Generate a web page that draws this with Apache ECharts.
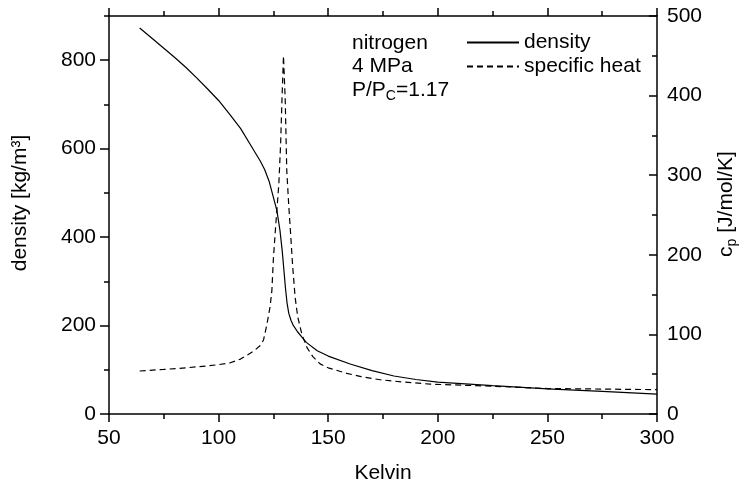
<!DOCTYPE html>
<html>
<head>
<meta charset="utf-8">
<script src="https://cdn.jsdelivr.net/npm/echarts@6/dist/echarts.min.js"></script>
<style>html,body{margin:0;padding:0;background:#fff}#c{width:742px;height:484px}</style>
</head>
<body>
<div id="c"></div>
<script>
// Temperature (K) and density (kg/m3)
const densT = [64, 70, 75, 80, 85, 90, 95, 100, 105, 110, 115, 119, 121, 123, 125, 126.6, 128, 129, 129.8, 130.5, 131.2, 132, 133, 134, 136, 138, 140, 145, 150, 160, 170, 180, 190, 200, 225, 250, 275, 300];
const density = [873, 848, 827, 806, 784, 760, 735, 709, 678, 646, 605, 572, 553, 527, 490, 460, 415, 370, 325, 285, 252, 228, 212, 201, 186, 174, 162, 143, 131, 113, 98, 86, 78, 72, 64, 57, 51, 45];
// Temperature (K) and specific heat cp (J/mol/K)
const cpT = [64, 75, 85, 95, 100, 105, 110, 113, 116, 119, 120.5, 122, 123.5, 124.3, 125, 126, 126.6, 127.5, 128.3, 128.9, 129.6, 130.4, 131.1, 132, 133, 133.8, 134.9, 136.1, 138, 140.2, 143, 146.3, 150, 158.5, 165, 173.7, 185, 196.6, 224, 250, 275, 300];
const cp = [54, 56, 58, 60.5, 62, 64, 69, 74, 79, 86, 93, 112, 135, 155, 195, 235, 256, 290, 340, 394, 450, 394, 306, 262, 220, 185, 147, 122, 100, 84, 72, 63, 58, 51, 47, 43, 40, 37.5, 35, 32, 31.3, 30.6];
const xTicks = [50, 100, 150, 200, 250, 300];
const leftTicks = [0, 200, 400, 600, 800];
const rightTicks = [0, 100, 200, 300, 400, 500];
const annotations = ['nitrogen', '4 MPa', 'P/P{s|C}=1.17'];

const FONT = '"Liberation Sans", Arial, sans-serif';
const FS = 21;
const chart = echarts.init(document.getElementById('c'), null, {renderer: 'canvas'});
const lineSt = {color: '#000', width: 1.5};
const densData = densT.map((t, i) => [t, density[i]]);
const cpData = cpT.map((t, i) => [t, cp[i]]);

chart.setOption({
  animation: false,
  backgroundColor: '#fff',
  grid: {left: 109, right: 85, top: 16, bottom: 70, containLabel: false, outerBoundsMode: 'none'},
  legend: {
    data: ['density', 'specific heat'],
    orient: 'vertical', left: 466, top: 32, padding: 0,
    itemWidth: 52, itemHeight: 14, itemGap: 3,
    itemStyle: {opacity: 0},
    textStyle: {fontSize: FS, fontFamily: FONT, color: '#000'}
  },
  xAxis: [{
    type: 'value', min: xTicks[0], max: xTicks[xTicks.length - 1], interval: 50, position: 'bottom',
    axisLine: {onZero: false, lineStyle: lineSt}, splitLine: {show: false},
    axisTick: {length: 8, lineStyle: lineSt},
    minorTick: {show: true, splitNumber: 2, length: 5, lineStyle: lineSt},
    axisLabel: {fontSize: FS, fontFamily: FONT, color: '#000', margin: 14},
    name: 'Kelvin', nameLocation: 'middle', nameGap: 49,
    nameTextStyle: {fontSize: FS, fontFamily: FONT, color: '#000'}
  }, {
    type: 'value', min: 50, max: 300, interval: 50, position: 'top',
    axisLine: {onZero: false, lineStyle: lineSt}, splitLine: {show: false},
    axisTick: {length: 8, lineStyle: lineSt},
    minorTick: {show: true, splitNumber: 2, length: 5, lineStyle: lineSt},
    axisLabel: {show: false}
  }],
  yAxis: [{
    type: 'value', min: 0, max: 900, interval: 100, position: 'left',
    axisLine: {show: true, onZero: false, lineStyle: lineSt}, splitLine: {show: false},
    axisTick: {length: 5, lineStyle: lineSt},
    axisLabel: {show: false}
  }, {
    type: 'value', min: rightTicks[0], max: rightTicks[rightTicks.length - 1], interval: 100, position: 'right',
    axisLine: {show: true, onZero: false, lineStyle: lineSt}, splitLine: {show: false},
    axisTick: {inside: true, length: 8, lineStyle: lineSt},
    minorTick: {show: true, splitNumber: 2, length: 5, lineStyle: lineSt},
    axisLabel: {fontSize: FS, fontFamily: FONT, color: '#000', margin: 10},
    name: 'c{s|p} [J/mol/K]', nameLocation: 'middle', nameRotate: 90, nameGap: 56,
    nameTextStyle: {fontSize: FS, fontFamily: FONT, color: '#000', padding: [0, 0, 0, 22],
      rich: {s: {fontSize: 14, fontFamily: FONT, color: '#000', padding: [12, 0, 0, 0]}}}
  }, {
    type: 'value', min: 0, max: 900, interval: 200, position: 'left',
    axisLine: {show: false, onZero: false}, splitLine: {show: false},
    axisTick: {length: 9, lineStyle: lineSt, customValues: leftTicks},
    axisLabel: {fontSize: FS, fontFamily: FONT, color: '#000', margin: 13, customValues: leftTicks},
    name: 'density [kg/m³]', nameLocation: 'middle', nameRotate: 90, nameGap: 78,
    nameTextStyle: {fontSize: FS, fontFamily: FONT, color: '#000', padding: [0, 0, 0, 24]}
  }],
  graphic: annotations.map((t, i) => ({
    type: 'text', x: 352, y: 43 + i * 23.5,
    style: {
      text: t, fontSize: FS, fontFamily: FONT, fill: '#000', verticalAlign: 'middle',
      rich: {s: {fontSize: 14, fontFamily: FONT, fill: '#000', padding: [12, 0, 0, 0]}}
    }
  })),
  series: [{
    name: 'density', type: 'line', xAxisIndex: 0, yAxisIndex: 0, data: densData,
    showSymbol: false, symbol: 'none', smooth: false,
    lineStyle: {color: '#000', width: 1.2, type: 'solid'}, itemStyle: {color: '#000'}
  }, {
    name: 'specific heat', type: 'line', xAxisIndex: 0, yAxisIndex: 1, data: cpData,
    showSymbol: false, symbol: 'none', smooth: false,
    lineStyle: {color: '#000', width: 1.2, type: [6, 4]}, itemStyle: {color: '#000'}
  }]
});
</script>
</body>
</html>
